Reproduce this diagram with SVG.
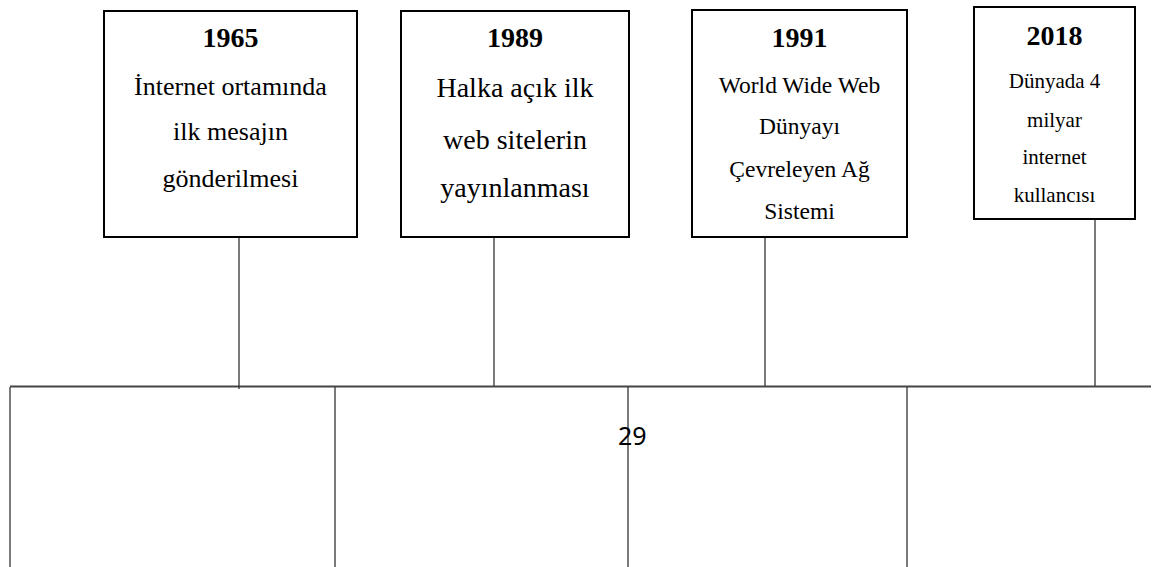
<svg xmlns="http://www.w3.org/2000/svg" width="1157" height="567" viewBox="0 0 1157 567">
<style>
.box{fill:#fff;stroke:#000;stroke-width:2}
.yr{font-family:"Liberation Serif","Times New Roman",serif;font-weight:bold;font-size:28px;text-anchor:middle;fill:#000}
.tx{font-family:"Liberation Serif","Times New Roman",serif;text-anchor:middle;fill:#000}
.ln{stroke:#333;stroke-width:1.3;fill:none}
.pg{font-family:"Noto Sans",sans-serif;font-size:25px;fill:#000}
</style>
<rect width="1157" height="567" fill="#fff"/>
<g id="connectors">
<line class="ln" x1="10" y1="386.5" x2="1151" y2="386.5" style="stroke-width:2;stroke:#444"/>
<line class="ln" x1="239" y1="237" x2="239" y2="389"/>
<line class="ln" x1="494" y1="237" x2="494" y2="386"/>
<line class="ln" x1="765" y1="237" x2="765" y2="386"/>
<line class="ln" x1="1095" y1="219" x2="1095" y2="386"/>
<line class="ln" x1="10" y1="387" x2="10" y2="567"/>
<line class="ln" x1="335" y1="387" x2="335" y2="567"/>
<line class="ln" x1="628" y1="387" x2="628" y2="567"/>
<line class="ln" x1="907" y1="387" x2="907" y2="567"/>
</g>
<g id="n1965">
<rect class="box" x="104" y="11" width="253" height="226"/>
<text class="yr" x="230.5" y="47">1965</text>
<text class="tx" x="230.5" y="95" font-size="26">İnternet ortamında</text>
<text class="tx" x="230.5" y="140" font-size="26">ilk mesajın</text>
<text class="tx" x="230.5" y="187" font-size="26">gönderilmesi</text>
</g>
<g id="n1989">
<rect class="box" x="401" y="11" width="228" height="226"/>
<text class="yr" x="515" y="47">1989</text>
<text class="tx" x="515" y="97" font-size="28">Halka açık ilk</text>
<text class="tx" x="515" y="149" font-size="28">web sitelerin</text>
<text class="tx" x="515" y="197" font-size="28">yayınlanması</text>
</g>
<g id="n1991">
<rect class="box" x="692" y="10" width="215" height="227"/>
<text class="yr" x="799.5" y="47">1991</text>
<text class="tx" x="799.5" y="93" font-size="23.5">World Wide Web</text>
<text class="tx" x="799.5" y="134" font-size="23.5">Dünyayı</text>
<text class="tx" x="799.5" y="177" font-size="23.5">Çevreleyen Ağ</text>
<text class="tx" x="799.5" y="219" font-size="23.5">Sistemi</text>
</g>
<g id="n2018">
<rect class="box" x="974" y="7" width="161" height="212"/>
<text class="yr" x="1054.5" y="45">2018</text>
<text class="tx" x="1054.5" y="88" font-size="21">Dünyada 4</text>
<text class="tx" x="1054.5" y="127" font-size="21">milyar</text>
<text class="tx" x="1054.5" y="164" font-size="21">internet</text>
<text class="tx" x="1054.5" y="202" font-size="21">kullancısı</text>
</g>
<text class="pg" x="618" y="445">29</text>
</svg>
